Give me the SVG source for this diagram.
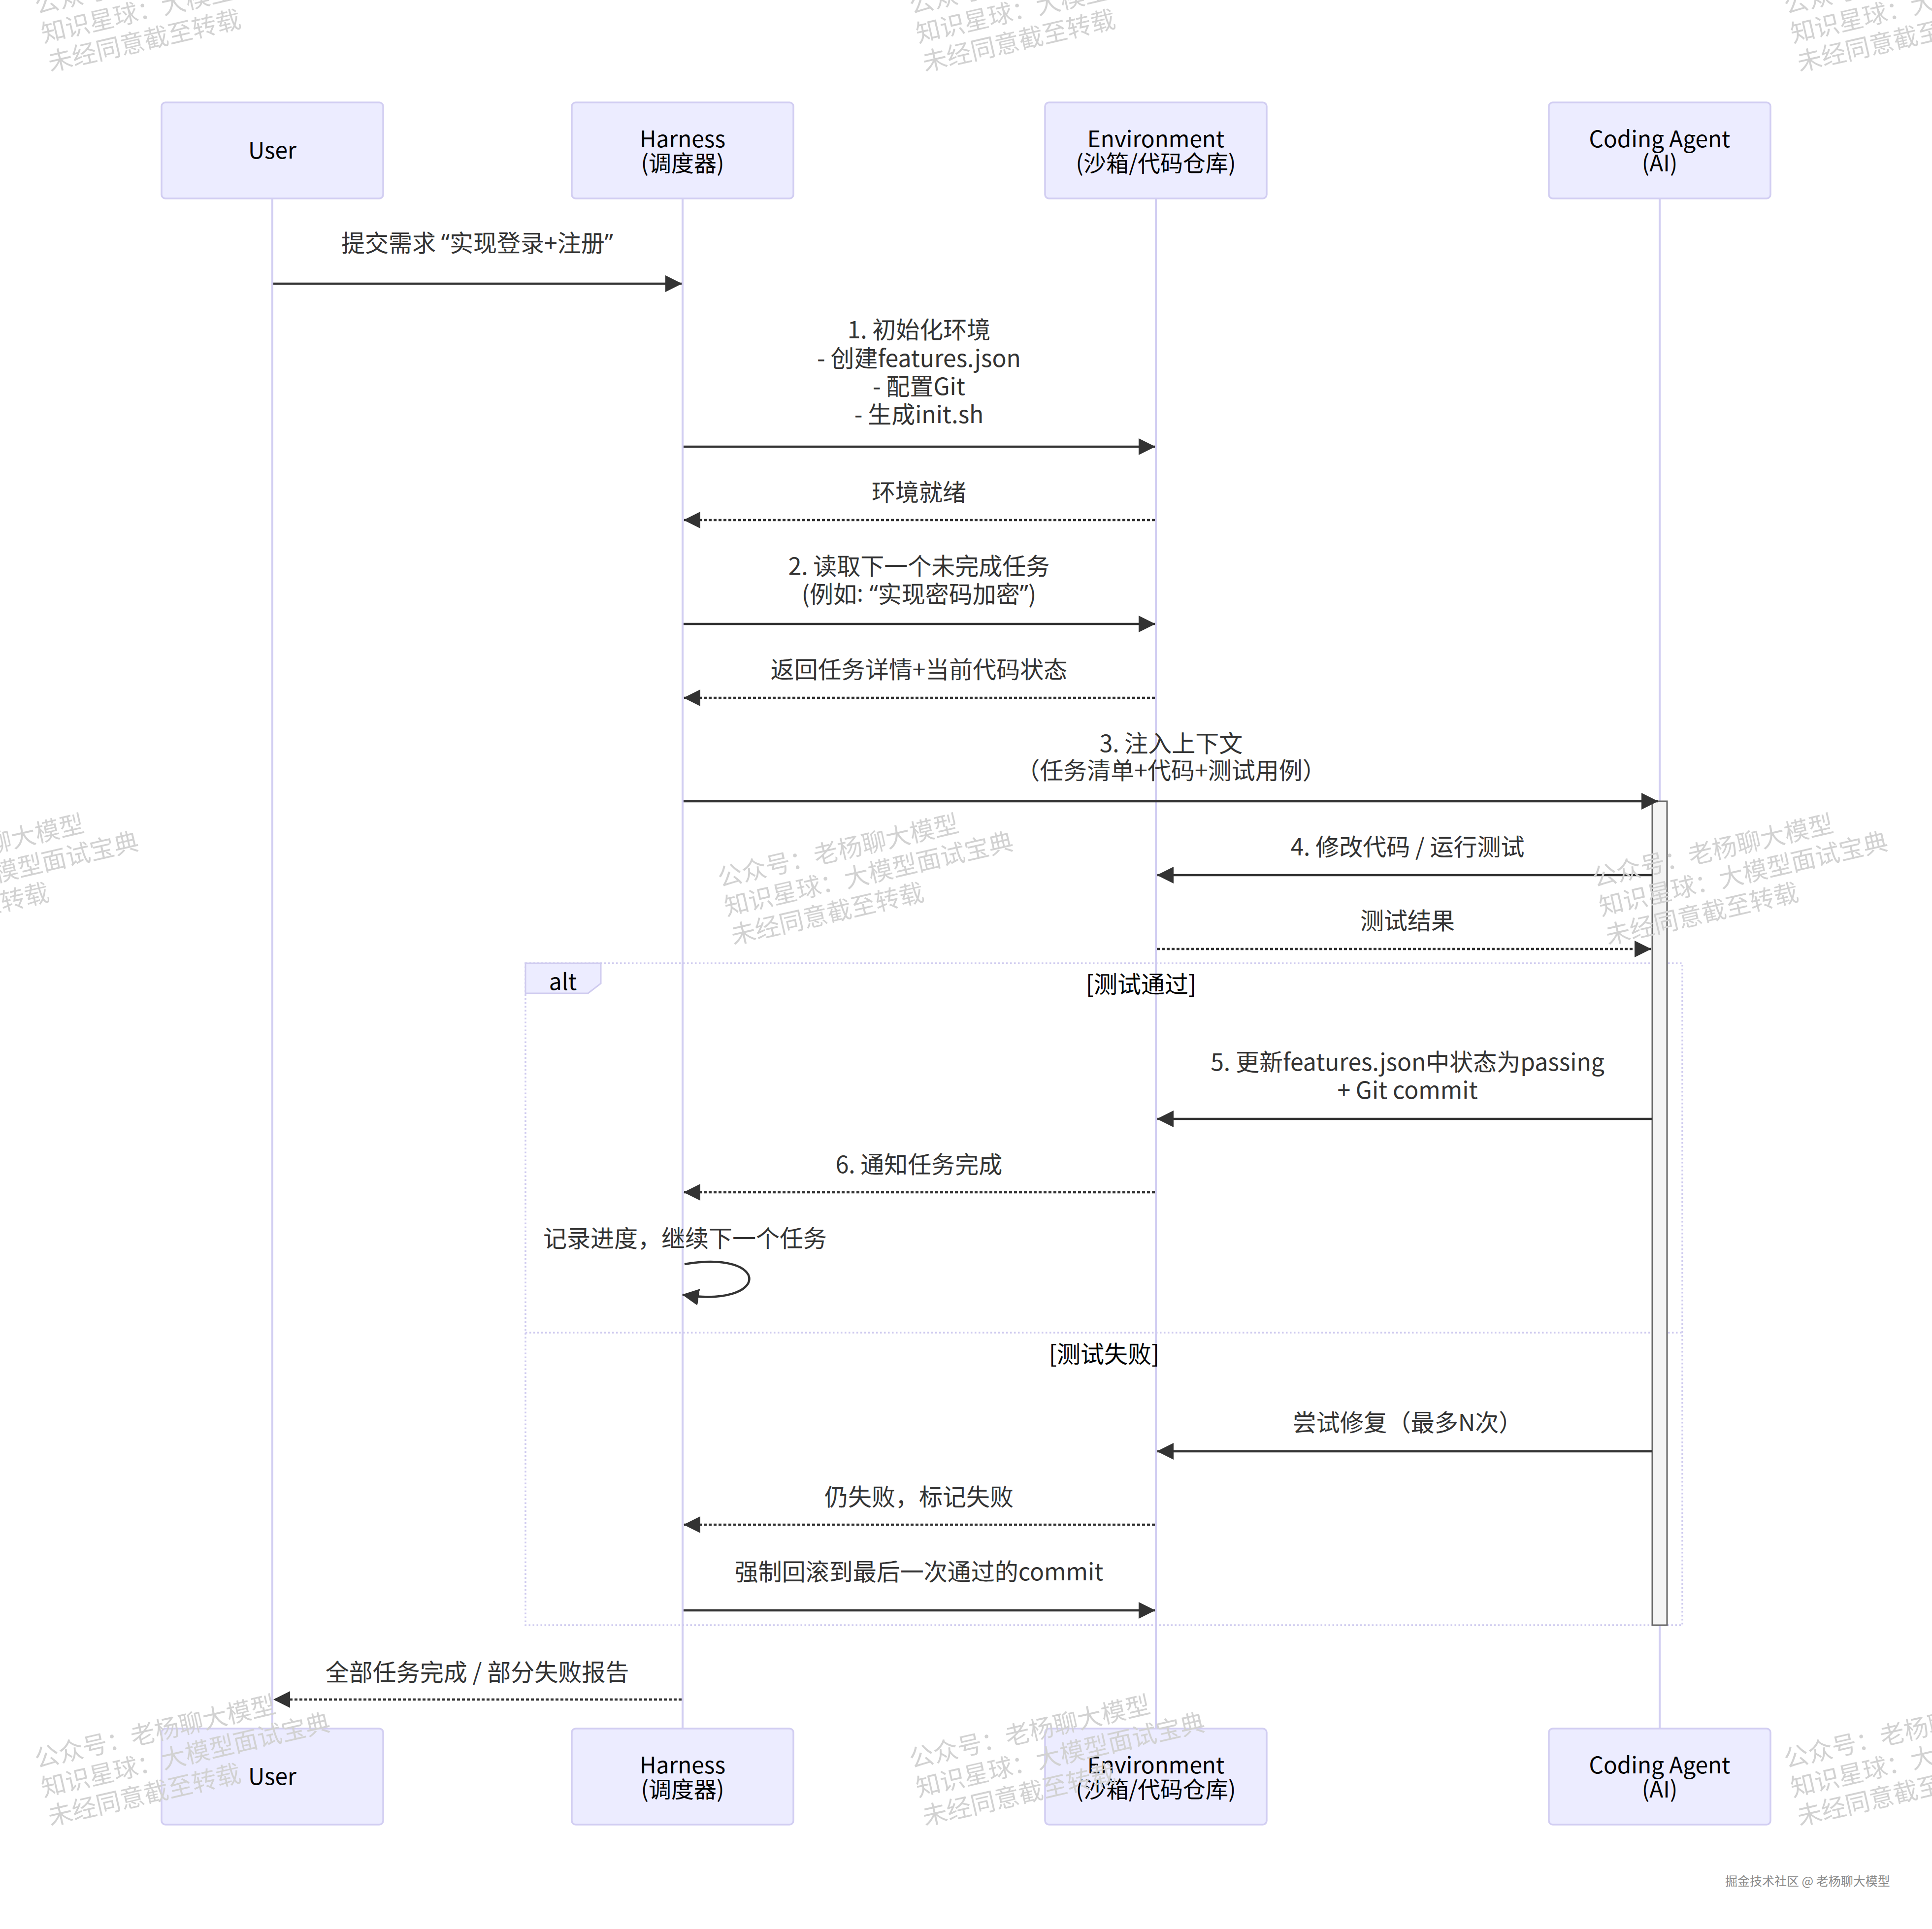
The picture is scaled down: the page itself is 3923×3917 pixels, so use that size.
<svg xmlns="http://www.w3.org/2000/svg" width="3923" height="3917" viewBox="0 0 3923 3917">
<style>
text{font-family:"Noto Sans CJK SC","Noto Sans",sans-serif;}
.q{font-family:"Noto Sans","Liberation Sans",sans-serif;}
.actor rect{fill:#ECECFF;stroke:#D2CEF2;stroke-width:3.5;}
.actor text{font-size:46px;fill:#000;text-anchor:middle;dominant-baseline:central;}
.life{stroke:#D2CEF2;stroke-width:4;}
.msg{stroke:#333;stroke-width:4.5;fill:none;}
.dot{stroke-dasharray:6 4;}
.lbl{font-size:48px;fill:#333;text-anchor:middle;dominant-baseline:central;}
.frame{fill:none;stroke:#CFCBEF;stroke-width:3.5;stroke-dasharray:3.5 4.5;}
.wm text{font-size:50px;fill:#d2d2d2;}
</style>
<defs>
<marker id="ah" markerUnits="userSpaceOnUse" markerWidth="40" markerHeight="40" refX="33" refY="17" orient="auto">
<path d="M0,0 L34,17 L0,34 z" fill="#333"/>
</marker>
</defs>
<rect width="3923" height="3917" fill="#fff"/>
<g id="lifelines">
<line class="life" x1="553" y1="403" x2="553" y2="3510"/>
<line class="life" x1="1386" y1="403" x2="1386" y2="3510"/>
<line class="life" x1="2347" y1="403" x2="2347" y2="3510"/>
<line class="life" x1="3370" y1="403" x2="3370" y2="3510"/>
</g>
<g id="alt-frame">
<rect class="frame" x="1067" y="1956" width="2349" height="1344"/>
<line class="frame" x1="1067" y1="2706" x2="3416" y2="2706"/>
<polygon points="1067,1956 1220,1956 1220,1997 1194,2017 1067,2017" fill="#ECECFF" stroke="#CFCBEF" stroke-width="3"/>
<text x="1143" y="1990" style="font-size:46px;fill:#000;text-anchor:middle;dominant-baseline:central">alt</text>
<text x="2317" y="1995" style="font-size:48px;fill:#000;text-anchor:middle;dominant-baseline:central">[测试通过]</text>
<text x="2242" y="2746" style="font-size:48px;fill:#000;text-anchor:middle;dominant-baseline:central">[测试失败]</text>
</g>
<g id="activation">
<rect x="3355" y="1627" width="30" height="1673" fill="#F4F4F4" stroke="#666" stroke-width="3"/>
</g>
<g id="actor-user-top" class="actor"><rect x="328" y="208" width="450" height="195" rx="8"/><text x="553" y="302">User</text></g>
<g id="actor-harness-top" class="actor"><rect x="1161" y="208" width="450" height="195" rx="8"/><text x="1386" y="279">Harness</text><text x="1386" y="328">(调度器)</text></g>
<g id="actor-env-top" class="actor"><rect x="2122" y="208" width="450" height="195" rx="8"/><text x="2347" y="279">Environment</text><text x="2347" y="328">(沙箱/代码仓库)</text></g>
<g id="actor-agent-top" class="actor"><rect x="3145" y="208" width="450" height="195" rx="8"/><text x="3370" y="279">Coding Agent</text><text x="3370" y="328">(AI)</text></g>
<g id="actor-user-bottom" class="actor"><rect x="328" y="3510" width="450" height="195" rx="8"/><text x="553" y="3604">User</text></g>
<g id="actor-harness-bottom" class="actor"><rect x="1161" y="3510" width="450" height="195" rx="8"/><text x="1386" y="3581">Harness</text><text x="1386" y="3630">(调度器)</text></g>
<g id="actor-env-bottom" class="actor"><rect x="2122" y="3510" width="450" height="195" rx="8"/><text x="2347" y="3581">Environment</text><text x="2347" y="3630">(沙箱/代码仓库)</text></g>
<g id="actor-agent-bottom" class="actor"><rect x="3145" y="3510" width="450" height="195" rx="8"/><text x="3370" y="3581">Coding Agent</text><text x="3370" y="3630">(AI)</text></g>
<g id="connectors">
<line class="msg" x1="555" y1="576" x2="1384" y2="576" marker-end="url(#ah)"/>
<line class="msg" x1="1388" y1="907" x2="2345" y2="907" marker-end="url(#ah)"/>
<line class="msg dot" x1="2345" y1="1056" x2="1389" y2="1056" marker-end="url(#ah)"/>
<line class="msg" x1="1388" y1="1267" x2="2345" y2="1267" marker-end="url(#ah)"/>
<line class="msg dot" x1="2345" y1="1417" x2="1389" y2="1417" marker-end="url(#ah)"/>
<line class="msg" x1="1388" y1="1627" x2="3366" y2="1627" marker-end="url(#ah)"/>
<line class="msg" x1="3355" y1="1777" x2="2350" y2="1777" marker-end="url(#ah)"/>
<line class="msg dot" x1="2349" y1="1927" x2="3352" y2="1927" marker-end="url(#ah)"/>
<line class="msg" x1="3355" y1="2272" x2="2350" y2="2272" marker-end="url(#ah)"/>
<line class="msg dot" x1="2345" y1="2421" x2="1389" y2="2421" marker-end="url(#ah)"/>
<path class="msg" d="M1390,2567 C1566,2537 1566,2657 1386,2629" marker-end="url(#ah)"/>
<line class="msg" x1="3355" y1="2947" x2="2350" y2="2947" marker-end="url(#ah)"/>
<line class="msg dot" x1="2345" y1="3096" x2="1389" y2="3096" marker-end="url(#ah)"/>
<line class="msg" x1="1388" y1="3270" x2="2345" y2="3270" marker-end="url(#ah)"/>
<line class="msg dot" x1="1384" y1="3451" x2="556" y2="3451" marker-end="url(#ah)"/>
</g>
<g id="message-labels">
<text class="lbl" x="969" y="490">提交需求 <tspan class="q">“</tspan>实现登录+注册<tspan class="q">”</tspan></text>
<text class="lbl" x="1866" y="666">1. 初始化环境</text>
<text class="lbl" x="1866" y="724">- 创建features.json</text>
<text class="lbl" x="1866" y="781">- 配置Git</text>
<text class="lbl" x="1866" y="838">- 生成init.sh</text>
<text class="lbl" x="1866" y="996">环境就绪</text>
<text class="lbl" x="1866" y="1146">2. 读取下一个未完成任务</text>
<text class="lbl" x="1866" y="1203">(例如<tspan class="q">: “</tspan>实现密码加密<tspan class="q">”</tspan>)</text>
<text class="lbl" x="1866" y="1356">返回任务详情+当前代码状态</text>
<text class="lbl" x="2378" y="1506">3. 注入上下文</text>
<text class="lbl" x="2378" y="1561">（任务清单+代码+测试用例）</text>
<text class="lbl" x="2858" y="1716">4. 修改代码 / 运行测试</text>
<text class="lbl" x="2858" y="1866">测试结果</text>
<text class="lbl" x="2858" y="2153">5. 更新features.json中状态为passing</text>
<text class="lbl" x="2858" y="2210">+ Git commit</text>
<text class="lbl" x="1866" y="2361">6. 通知任务完成</text>
<text class="lbl" x="1391" y="2511">记录进度，继续下一个任务</text>
<text class="lbl" x="2858" y="2885">尝试修复（最多N次）</text>
<text class="lbl" x="1866" y="3036">仍失败，标记失败</text>
<text class="lbl" x="1866" y="3188">强制回滚到最后一次通过的commit</text>
<text class="lbl" x="969" y="3392">全部任务完成 / 部分失败报告</text>
</g>
<g id="watermarks" class="wm">
<g transform="translate(75,28) rotate(-13)"><text x="0" y="0">公众号：老杨聊大模型</text><text x="0" y="60">知识星球：大模型面试宝典</text><text x="0" y="120">未经同意截至转载</text></g>
<g transform="translate(1851,28) rotate(-13)"><text x="0" y="0">公众号：老杨聊大模型</text><text x="0" y="60">知识星球：大模型面试宝典</text><text x="0" y="120">未经同意截至转载</text></g>
<g transform="translate(3627,28) rotate(-13)"><text x="0" y="0">公众号：老杨聊大模型</text><text x="0" y="60">知识星球：大模型面试宝典</text><text x="0" y="120">未经同意截至转载</text></g>
<g transform="translate(-314,1801) rotate(-13)"><text x="0" y="0">公众号：老杨聊大模型</text><text x="0" y="60">知识星球：大模型面试宝典</text><text x="0" y="120">未经同意截至转载</text></g>
<g transform="translate(1462,1801) rotate(-13)"><text x="0" y="0">公众号：老杨聊大模型</text><text x="0" y="60">知识星球：大模型面试宝典</text><text x="0" y="120">未经同意截至转载</text></g>
<g transform="translate(3238,1801) rotate(-13)"><text x="0" y="0">公众号：老杨聊大模型</text><text x="0" y="60">知识星球：大模型面试宝典</text><text x="0" y="120">未经同意截至转载</text></g>
<g transform="translate(75,3590) rotate(-13)"><text x="0" y="0">公众号：老杨聊大模型</text><text x="0" y="60">知识星球：大模型面试宝典</text><text x="0" y="120">未经同意截至转载</text></g>
<g transform="translate(1851,3590) rotate(-13)"><text x="0" y="0">公众号：老杨聊大模型</text><text x="0" y="60">知识星球：大模型面试宝典</text><text x="0" y="120">未经同意截至转载</text></g>
<g transform="translate(3627,3590) rotate(-13)"><text x="0" y="0">公众号：老杨聊大模型</text><text x="0" y="60">知识星球：大模型面试宝典</text><text x="0" y="120">未经同意截至转载</text></g>
</g>
<text x="3503" y="3818" style="font-size:25px;fill:#8a8a8a;dominant-baseline:central">掘金技术社区 @ 老杨聊大模型</text>
</svg>
